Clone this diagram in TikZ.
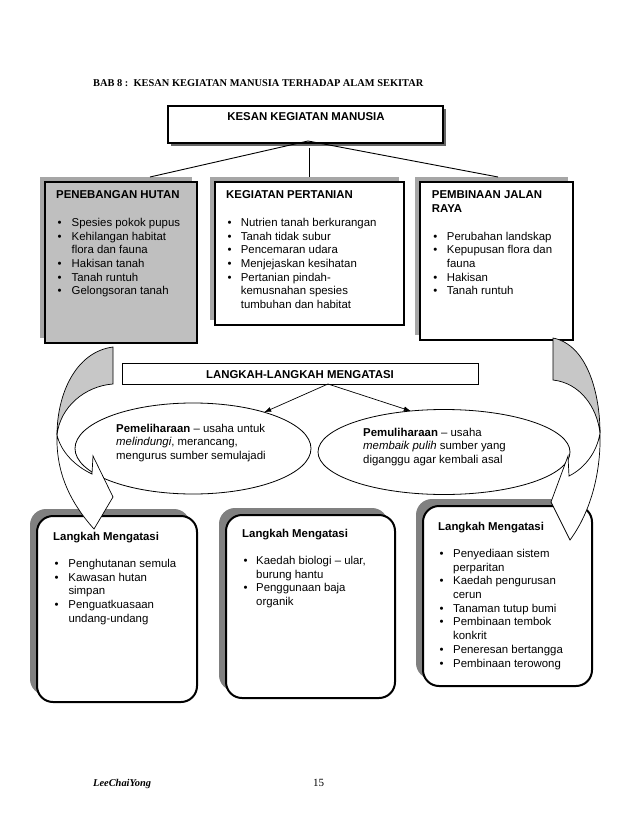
\documentclass[tikz,border=0pt]{standalone}
\usepackage{fontspec}
\setmainfont{Liberation Serif}
\setsansfont{Liberation Sans}
\usetikzlibrary{shapes.geometric,shadows,arrows.meta}
\newcommand{\bu}{\hspace*{1.5pt}\textbullet}
\begin{document}
\begin{tikzpicture}[x=1pt,y=-1pt,
  bodyfont/.style={font=\sffamily\fontsize{11.4}{13.7}\selectfont},
  txt/.style={bodyfont, anchor=base west, inner sep=0pt},
  topbox/.style={draw, line width=2.6pt, anchor=north west, inner sep=0pt, outer sep=0pt,
    drop shadow={shadow xshift=-5pt, shadow yshift=5pt, fill=black!35, opacity=1}},
  lowbox/.style={draw, line width=2pt, fill=white, rounded corners=16pt, anchor=north west,
    inner sep=0pt, outer sep=0pt,
    drop shadow={shadow xshift=-7pt, shadow yshift=7pt, fill=black!50, opacity=1}},
  oval/.style={draw, ellipse, line width=0.8pt, fill=white, inner sep=0pt, outer sep=0pt},
  conn/.style={line width=0.9pt},
  ptr/.style={line width=0.7pt, -{Latex[length=7pt,width=5pt]}},
  face/.style={line width=0.7pt, line join=miter}
]
\fill[white] (0,0) rectangle (638,826);
\useasboundingbox (0,0) rectangle (638,826);

% title
\node[anchor=base west, inner sep=0pt, font=\bfseries\fontsize{10.4}{12}\selectfont] (title) at (93,86.5)
  {BAB 8 :\ \ KESAN KEGIATAN MANUSIA TERHADAP ALAM SEKITAR};

% top box
\node[draw, line width=1.1pt, fill=white, anchor=north west, minimum width=275, minimum height=37,
  inner sep=0pt, outer sep=0pt,
  drop shadow={shadow xshift=3pt, shadow yshift=-3pt, fill=black!60, opacity=1}] (kesan) at (168,106) {};
\node[bodyfont, font=\sffamily\bfseries\fontsize{11.4}{13.7}\selectfont, anchor=base, inner sep=0pt] (kesantxt) at (306,121) {KESAN KEGIATAN MANUSIA};

% row 1 boxes
\node[topbox, fill=black!25, minimum width=152, minimum height=161] (boxA) at (45,182) {};
\node[topbox, fill=white, minimum width=189, minimum height=143] (boxB) at (215,182) {};
\node[topbox, fill=white, minimum width=153, minimum height=158] (boxC) at (420,182) {};

% connectors from top box
\coordinate (apex) at (308,141);
\coordinate (lend) at (150,177);
\coordinate (rend) at (498,177);
\coordinate (vtop) at (309,148);
\coordinate (vbot) at (309,177);
\draw[conn] (lend) -- (apex) -- (rend);
\draw[conn] (vtop) -- (vbot);

\node[txt] (tA) at (56,199) {\begin{tabular}[t]{@{}p{15.5pt}@{}l@{}}
\multicolumn{2}{@{}l@{}}{\bfseries PENEBANGAN HUTAN}\\
\\
\bu & Spesies pokok pupus\\
\bu & Kehilangan habitat\\
 & flora dan fauna\\
\bu & Hakisan tanah\\
\bu & Tanah runtuh\\
\bu & Gelongsoran tanah
\end{tabular}};

\node[txt] (tB) at (226,199) {\begin{tabular}[t]{@{}p{14.7pt}@{}l@{}}
\multicolumn{2}{@{}l@{}}{\bfseries KEGIATAN PERTANIAN}\\
\\
\bu & Nutrien tanah berkurangan\\
\bu & Tanah tidak subur\\
\bu & Pencemaran udara\\
\bu & Menjejaskan kesihatan\\
\bu & Pertanian pindah-\\
 & kemusnahan spesies\\
 & tumbuhan dan habitat
\end{tabular}};

\node[txt] (tC) at (431.7,199) {\begin{tabular}[t]{@{}p{15pt}@{}l@{}}
\multicolumn{2}{@{}l@{}}{\bfseries PEMBINAAN JALAN}\\
\multicolumn{2}{@{}l@{}}{\bfseries RAYA}\\
\\
\bu & Perubahan landskap\\
\bu & Kepupusan flora dan\\
 & fauna\\
\bu & Hakisan\\
\bu & Tanah runtuh
\end{tabular}};

% langkah box
\node[draw, line width=0.8pt, fill=white, anchor=north west, minimum width=356, minimum height=21,
  inner sep=0pt, outer sep=0pt] (langkah) at (122,363) {};
\node[bodyfont, font=\sffamily\bfseries\fontsize{11.4}{13.7}\selectfont, anchor=base, inner sep=0pt] (langkahtxt) at (300,378) {LANGKAH-LANGKAH MENGATASI};

% ellipses
\node[oval, minimum width=236, minimum height=91] (ellL) at (193,448.5) {};
\node[oval, minimum width=252, minimum height=85] (ellR) at (444,452) {};
\coordinate (lsrc) at (328,384);
\draw[ptr] (lsrc) -- (ellL.27);
\draw[ptr] (lsrc) -- (ellR.129);

\node[txt] (tL) at (116,432) {\begin{tabular}[t]{@{}l@{}}
\textbf{Pemeliharaan} – usaha untuk\\
\textit{melindungi}, merancang,\\
mengurus sumber semulajadi
\end{tabular}};
\node[txt] (tR) at (363,436) {\begin{tabular}[t]{@{}l@{}}
\textbf{Pemuliharaan} – usaha\\
\textit{membaik pulih} sumber yang\\
diganggu agar kembali asal
\end{tabular}};

% lower boxes
\node[lowbox, minimum width=160, minimum height=186] (boxD) at (37,516) {};
\node[lowbox, minimum width=169, minimum height=183] (boxE) at (226,515) {};
\node[lowbox, minimum width=169, minimum height=180] (boxF) at (423,506) {};

\node[txt] (tD) at (53,540) {\begin{tabular}[t]{@{}p{15.3pt}@{}l@{}}
\multicolumn{2}{@{}l@{}}{\bfseries Langkah Mengatasi}\\
\\
\bu & Penghutanan semula\\
\bu & Kawasan hutan\\
 & simpan\\
\bu & Penguatkuasaan\\
 & undang-undang
\end{tabular}};

\node[txt] (tE) at (242,537) {\begin{tabular}[t]{@{}p{14pt}@{}l@{}}
\multicolumn{2}{@{}l@{}}{\bfseries Langkah Mengatasi}\\
\\
\bu & Kaedah biologi – ular,\\
 & burung hantu\\
\bu & Penggunaan baja\\
 & organik
\end{tabular}};

\node[txt] (tF) at (438,530) {\begin{tabular}[t]{@{}p{15pt}@{}l@{}}
\multicolumn{2}{@{}l@{}}{\bfseries Langkah Mengatasi}\\
\\
\bu & Penyediaan sistem\\
 & perparitan\\
\bu & Kaedah pengurusan\\
 & cerun\\
\bu & Tanaman tutup bumi\\
\bu & Pembinaan tembok\\
 & konkrit\\
\bu & Peneresan bertangga\\
\bu & Pembinaan terowong
\end{tabular}};

% curved block arrows
\filldraw[face, fill=black!22] (113,347) .. controls (75,352) and (57,395) .. (57,435)
  .. controls (60,407) and (85,386) .. (113,384) -- cycle;
\filldraw[face, fill=white] (57,435) .. controls (56,470) and (68,500) .. (94,529)
  -- (113,497) -- (93,456) -- (92,474) .. controls (75,466) and (61,452) .. (57,435) -- cycle;

\filldraw[face, fill=black!22] (553,338) .. controls (588,345) and (600,395) .. (600,433)
  .. controls (597,407) and (580,383) .. (553,380) -- cycle;
\filldraw[face, fill=white] (600,433) .. controls (601,470) and (592,510) .. (570,540)
  -- (551,502) -- (568,456) -- (569,476) .. controls (585,468) and (597,452) .. (600,433) -- cycle;

% footer
\node[anchor=base west, inner sep=0pt, font=\bfseries\itshape\fontsize{10.4}{12}\selectfont] (author) at (93,786.5) {LeeChaiYong};
\node[anchor=base west, inner sep=0pt, font=\fontsize{11}{13}\selectfont] (pagenum) at (313,786.5) {15};
\end{tikzpicture}
\end{document}
